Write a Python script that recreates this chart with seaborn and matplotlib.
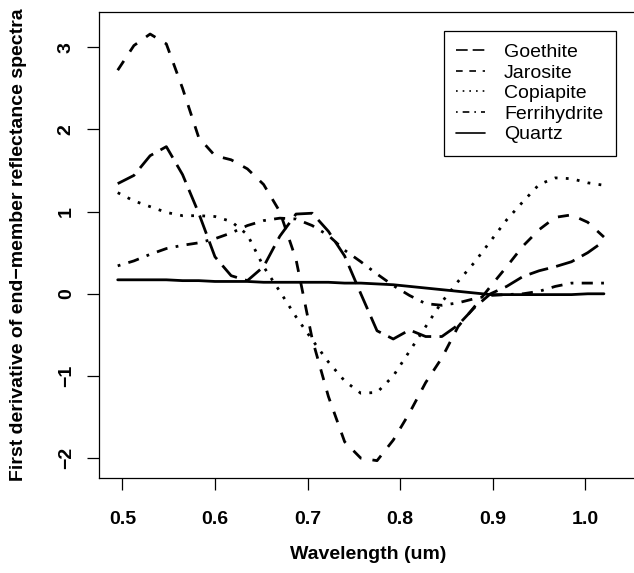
import numpy as np
import pandas as pd
import matplotlib
matplotlib.use('Agg')
import matplotlib.pyplot as plt
from matplotlib.lines import Line2D
import seaborn as sns

# values
wavelength = [0.495, 0.5125, 0.53, 0.5475, 0.565, 0.5825, 0.6, 0.6175, 0.635, 0.6525,
              0.67, 0.6875, 0.705, 0.7225, 0.74, 0.7575, 0.775, 0.7925, 0.81, 0.8275,
              0.845, 0.8625, 0.88, 0.8975, 0.915, 0.9325, 0.95, 0.9675, 0.985, 1.0025, 1.02]

goethite = [1.34, 1.44, 1.68, 1.79, 1.45, 0.98, 0.45, 0.22, 0.16, 0.33,
            0.70, 0.97, 0.98, 0.76, 0.46, 0.0, -0.45, -0.55, -0.44, -0.52,
            -0.52, -0.38, -0.17, 0.0, 0.09, 0.21, 0.28, 0.33, 0.39, 0.50, 0.64]

jarosite = [2.72, 3.02, 3.16, 3.04, 2.5, 1.9, 1.68, 1.63, 1.52, 1.33,
            1.0, 0.42, -0.55, -1.25, -1.8, -2.0, -2.03, -1.78, -1.45, -1.08,
            -0.78, -0.40, -0.16, 0.09, 0.33, 0.58, 0.78, 0.93, 0.96, 0.87, 0.69]

copiapite = [1.23, 1.13, 1.06, 0.99, 0.95, 0.95, 0.94, 0.88, 0.72, 0.33,
             0.03, -0.28, -0.56, -0.83, -1.06, -1.21, -1.2, -1.0, -0.7, -0.4,
             -0.1, 0.15, 0.38, 0.64, 0.9, 1.12, 1.33, 1.41, 1.40, 1.35, 1.32]

ferrihydrite = [0.34, 0.40, 0.48, 0.55, 0.59, 0.62, 0.67, 0.74, 0.83, 0.89,
                0.92, 0.91, 0.83, 0.71, 0.53, 0.39, 0.24, 0.10, -0.02, -0.12,
                -0.14, -0.11, -0.06, -0.02, -0.01, 0.0, 0.03, 0.09, 0.13, 0.13, 0.13]

quartz = [0.17, 0.17, 0.17, 0.17, 0.16, 0.16, 0.15, 0.15, 0.15, 0.14,
          0.14, 0.14, 0.14, 0.14, 0.13, 0.13, 0.12, 0.11, 0.09, 0.07,
          0.05, 0.03, 0.01, -0.01, -0.01, -0.01, -0.01, -0.01, -0.01, 0.0, 0.0]

minerals = ['Goethite', 'Jarosite', 'Copiapite', 'Ferrihydrite', 'Quartz']
x_ticks = [0.5, 0.6, 0.7, 0.8, 0.9, 1.0]
x_ticklabels = ['0.5', '0.6', '0.7', '0.8', '0.9', '1.0']
y_ticks = [-2, -1, 0, 1, 2, 3]
y_ticklabels = ['\u22122', '\u22121', '0', '1', '2', '3']

sns.set_style('ticks')
plt.rcParams['font.family'] = ['Liberation Sans', 'DejaVu Sans']
plt.rcParams.update({'text.color': 'black', 'axes.labelcolor': 'black',
                     'xtick.color': 'black', 'ytick.color': 'black'})

df = pd.DataFrame({'Wavelength': wavelength, 'Goethite': goethite, 'Jarosite': jarosite,
                   'Copiapite': copiapite, 'Ferrihydrite': ferrihydrite, 'Quartz': quartz})
long_df = df.melt(id_vars='Wavelength', var_name='Mineral', value_name='Value')

dashes = {'Goethite': (7, 3), 'Jarosite': (4, 4), 'Copiapite': (1, 3),
          'Ferrihydrite': (1, 3, 4, 3), 'Quartz': ''}

W, H = 634, 573
fig = plt.figure(figsize=(W / 100, H / 100), dpi=100)
ax = fig.add_axes([99 / W, (H - 478) / H, (641 - 99) / W, (478 - 12) / H])

sns.lineplot(data=long_df, x='Wavelength', y='Value', style='Mineral', style_order=minerals,
             dashes=dashes, color='black', lw=2.0, errorbar=None, legend=False, ax=ax)

ax.set_xlim(0.4748, 1.060)
ax.set_ylim(-2.241, 3.428)

ax.set_xticks(x_ticks)
ax.set_xticklabels(x_ticklabels)
ax.set_yticks(y_ticks)
ax.set_yticklabels(y_ticklabels, rotation=90, va='center')
ax.tick_params(length=8.4, width=0.9, color='black', labelcolor='black', labelsize=14, pad=9)
ax.tick_params(axis='x', pad=15)
for lbl in ax.get_xticklabels() + ax.get_yticklabels():
    lbl.set_fontweight('bold')

for sp in ax.spines.values():
    sp.set_linewidth(0.9)
    sp.set_color('black')

ax.set_xlabel('Wavelength (um)', fontsize=14, fontweight='bold', color='black')
ax.set_ylabel('First derivative of end\u2212member reflectance spectra', fontsize=14,
              fontweight='bold', va='center', color='black')
ax.xaxis.set_label_coords((368 - 99) / (641 - 99), -(546 - 478) / (478 - 12))
ax.yaxis.set_label_coords(-(99 - 19) / (641 - 99), 0.5)

# legend keys are drawn thinner than the curves
handles = []
for m in minerals:
    d = dashes[m]
    h = Line2D([], [], color='black', lw=1.2)
    if d:
        h.set_dashes(d)
    handles.append(h)

leg = ax.legend(handles, minerals, loc='upper right',
                bbox_to_anchor=(616 / W, 1 - 31 / H), bbox_transform=fig.transFigure,
                fontsize=14, frameon=True, fancybox=False, framealpha=1,
                edgecolor='black', handlelength=1.45, handletextpad=1.0,
                labelspacing=0.15, borderpad=0.65, borderaxespad=0)
leg.get_frame().set_linewidth(0.9)
for t in leg.get_texts():
    t.set_color('black')

fig.savefig('out.png', dpi=100)
